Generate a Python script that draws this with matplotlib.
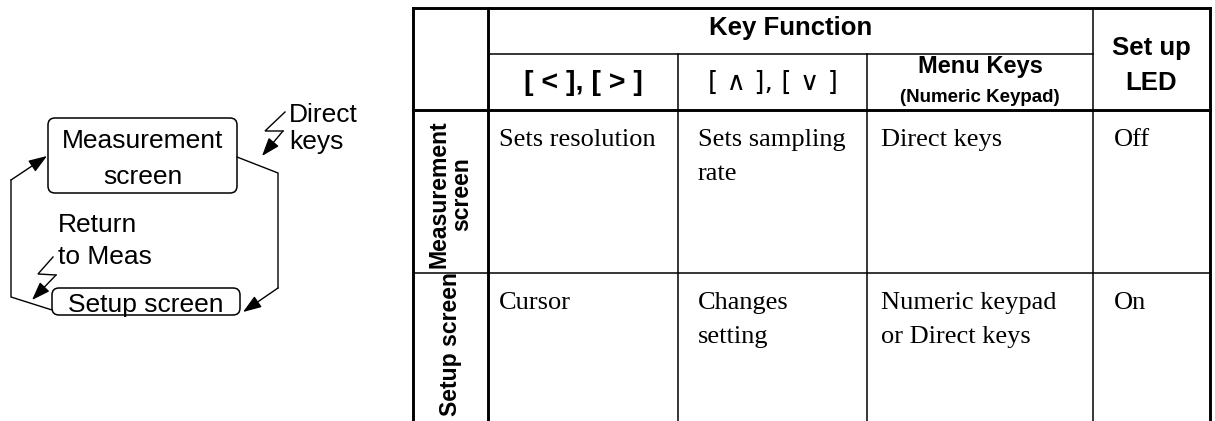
import matplotlib.pyplot as plt
from matplotlib.patches import FancyBboxPatch, FancyArrowPatch

# ---------------- table content ----------------
group_header = "Key Function"
col_headers = ["[ < ], [ > ]", "[ \u2227 ], [ \u2228 ]", "Menu Keys"]
menu_sub = "(Numeric Keypad)"
led_header = ["Set up", "LED"]
row_labels = ["Measurement\nscreen", "Setup screen"]
cells = [
    ["Sets resolution", "Sets sampling\nrate", "Direct keys", "Off"],
    ["Cursor", "Changes\nsetting", "Numeric keypad\nor Direct keys", "On"],
]

# ---------------- diagram content ----------------
box_labels = ["Measurement\nscreen", "Setup screen"]
direct_label = ["Direct", "keys"]
return_label = ["Return", "to Meas"]

# grid (pixels)
col_x = [413, 488, 678, 867, 1093, 1210]
row_y = [8, 54, 110, 273, 421]

SANS = ["Liberation Sans", "DejaVu Sans"]
SERIF = "Liberation Serif"

fig = plt.figure(figsize=(12.15, 4.21), dpi=100)
ax = fig.add_axes([0, 0, 1, 1])
ax.set_xlim(0, 1215)
ax.set_ylim(421, 0)
ax.axis("off")

thick = 2.1
thin = 1.1

# outer frame
ax.plot([col_x[0], col_x[0]], [row_y[0], row_y[-1]], color="k", lw=thick)
ax.plot([col_x[-1], col_x[-1]], [row_y[0], row_y[-1]], color="k", lw=thick)
ax.plot([col_x[0], col_x[-1]], [row_y[0], row_y[0]], color="k", lw=thick)
# header bottom
ax.plot([col_x[0], col_x[-1]], [row_y[2], row_y[2]], color="k", lw=thick)
# row label column divider
ax.plot([col_x[1], col_x[1]], [row_y[0], row_y[-1]], color="k", lw=thick)
# Key Function underline
ax.plot([col_x[1], col_x[4]], [row_y[1], row_y[1]], color="k", lw=thin)
# inner columns
ax.plot([col_x[2], col_x[2]], [row_y[1], row_y[-1]], color="k", lw=thin)
ax.plot([col_x[3], col_x[3]], [row_y[1], row_y[-1]], color="k", lw=thin)
ax.plot([col_x[4], col_x[4]], [row_y[0], row_y[-1]], color="k", lw=thin)
# row divider
ax.plot([col_x[0], col_x[-1]], [row_y[3], row_y[3]], color="k", lw=thin)

# header texts
ax.text((col_x[1] + col_x[4]) / 2, 28, group_header, ha="center", va="center",
        fontsize=18.5, fontweight="bold", family=SANS)
ax.text((col_x[1] + col_x[2]) / 2, 83, col_headers[0], ha="center",
        va="center", fontsize=20.5, fontweight="bold", family=SANS)
ax.text((col_x[2] + col_x[3]) / 2, 83, col_headers[1], ha="center", va="center",
        fontsize=19, fontweight="normal", family=["DejaVu Sans"])
ax.text((col_x[3] + col_x[4]) / 2, 67, col_headers[2], ha="center", va="center",
        fontsize=17, fontweight="bold", family=SANS)
ax.text((col_x[3] + col_x[4]) / 2, 97, menu_sub, ha="center", va="center",
        fontsize=13.5, fontweight="bold", family=SANS)
for k, line in enumerate(led_header):
    ax.text((col_x[4] + col_x[5]) / 2, 48 + 35 * k, line, ha="center", va="center",
            fontsize=18.5, fontweight="bold", family=SANS)

# row labels
label_shift = [3, -3]
for r, lab in enumerate(row_labels):
    ax.text((col_x[0] + col_x[1]) / 2, (row_y[r + 2] + row_y[r + 3]) / 2 + label_shift[r], lab,
            ha="center", va="center", rotation=90, fontsize=16.6, fontweight="bold",
            family=SANS, linespacing=0.95)

# cells
text_x = [499, 698, 881, 1114]
for r, row in enumerate(cells):
    for c, txt in enumerate(row):
        for k, line in enumerate(txt.split("\n")):
            ax.text(text_x[c], row_y[r + 2] + 36 + 34 * k, line, ha="left", va="baseline",
                    fontsize=19, family=SERIF)

# ---------------- state diagram ----------------
meas_box = (48, 118, 189, 75)
setup_box = (52, 288, 188, 27)
for (bx, by, bw, bh), lab in zip([meas_box, setup_box], box_labels):
    ax.add_patch(FancyBboxPatch((bx, by), bw, bh, boxstyle="round,pad=0,rounding_size=7",
                                fc="white", ec="k", lw=1.1))
    lines = lab.split("\n")
    for k, line in enumerate(lines):
        yc = by + bh / 2 + (k - (len(lines) - 1) / 2) * 37 + 1
        ax.text(bx + bw / 2, yc, line, ha="center", va="center_baseline",
                fontsize=19, family=SANS)


def arrow_path(pts, tip):
    xs = [p[0] for p in pts]
    ys = [p[1] for p in pts]
    ax.plot(xs, ys, color="k", lw=1.0, solid_joinstyle="miter")
    ax.add_patch(FancyArrowPatch(pts[-1], tip, arrowstyle="-|>,head_length=0.7,head_width=0.25",
                                 mutation_scale=16, color="k", lw=1.0, shrinkA=0, shrinkB=0))


# measurement -> setup (right side)
arrow_path([(237, 157), (278, 173), (278, 288)], (243, 312))
# setup -> measurement (left side)
arrow_path([(52, 310), (11, 297), (11, 180)], (47, 156))
# lightning "Direct keys"
arrow_path([(285, 112), (265, 131), (283, 131)], (262, 156))
# lightning "Return to Meas"
arrow_path([(53, 257), (38, 274), (56, 275)], (32, 300))

for k, line in enumerate(direct_label):
    ax.text(289, 113 + 27 * k, line, ha="left", va="center_baseline", fontsize=19, family=SANS)
for k, line in enumerate(return_label):
    ax.text(58, 223 + 31 * k, line, ha="left", va="center_baseline", fontsize=19, family=SANS)

fig.savefig("out.png", dpi=100)
